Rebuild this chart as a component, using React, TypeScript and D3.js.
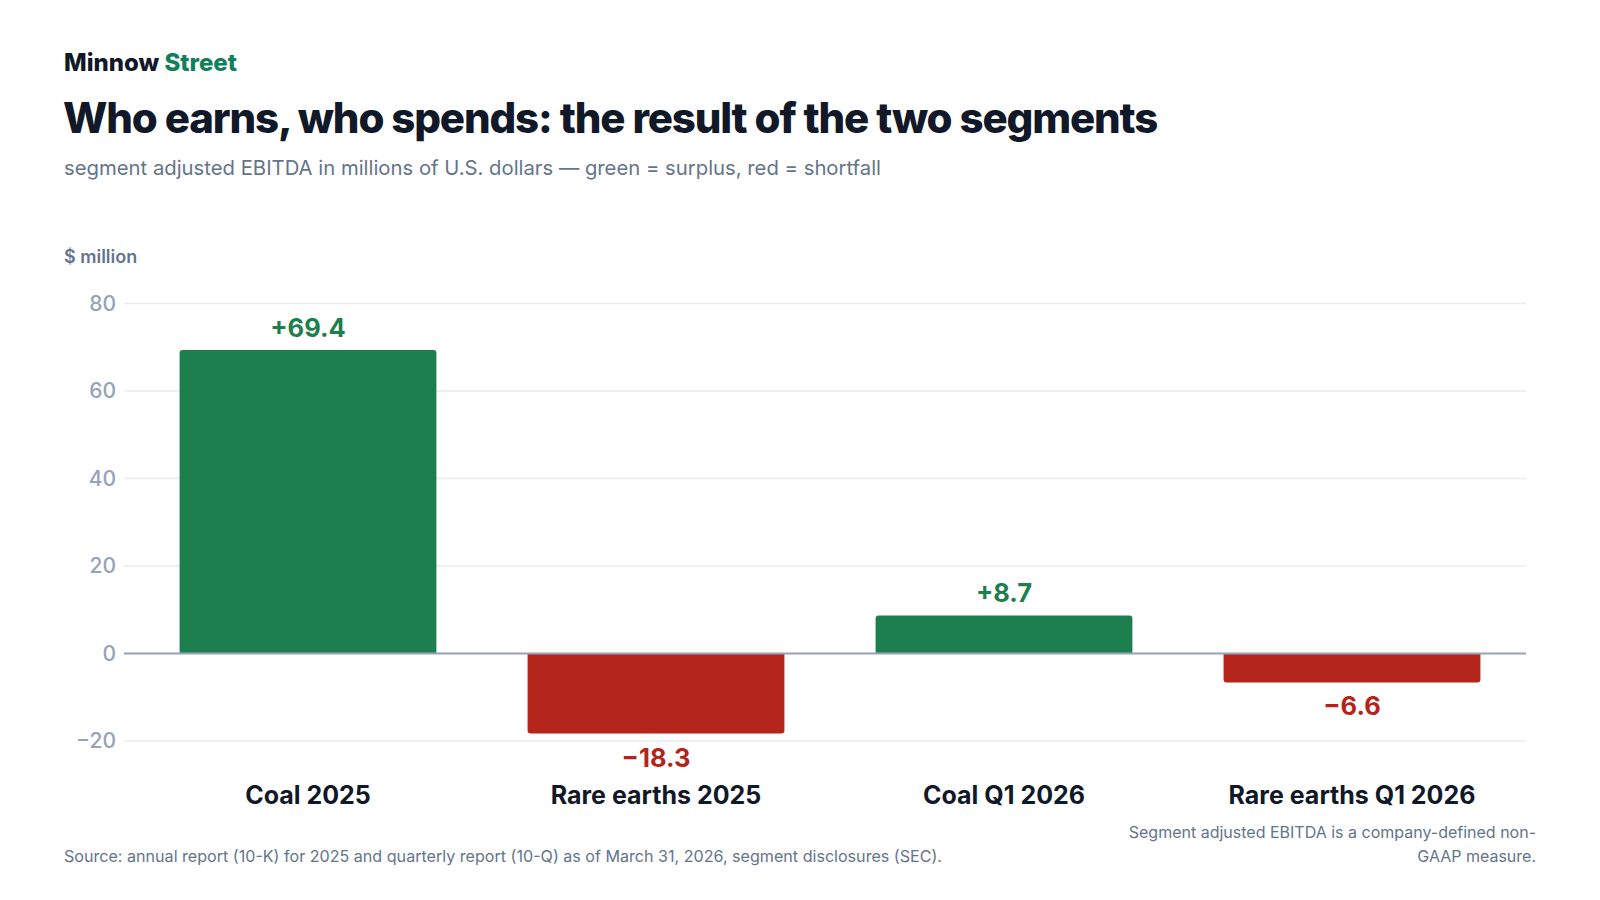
import * as d3 from "d3";

const categories = ["Coal 2025", "Rare earths 2025", "Coal Q1 2026", "Rare earths Q1 2026"];
const values = [69.4, -18.3, 8.7, -6.6];
const yTicks = [-20, 0, 20, 40, 60, 80];

const width = 1600;
const height = 900;
const font = "Inter, 'Noto Sans', sans-serif";

const green = "#1e7f4e";
const red = "#b3241b";

// bar with rounded corners only on the end away from zero
const barPath = (x: number, w: number, y0: number, y1: number, r: number) => {
  if (y1 < y0) {
    return `M${x},${y0}V${y1 + r}Q${x},${y1} ${x + r},${y1}H${x + w - r}Q${x + w},${y1} ${x + w},${y1 + r}V${y0}Z`;
  }
  return `M${x},${y0}V${y1 - r}Q${x},${y1} ${x + r},${y1}H${x + w - r}Q${x + w},${y1} ${x + w},${y1 - r}V${y0}Z`;
};

export default function App() {
  const x = d3.scaleBand<string>()
    .domain(categories)
    .range([134, 1526])
    .paddingInner(0.262)
    .paddingOuter(0.131);

  const y = d3.scaleLinear().domain([-20, 80]).range([741, 303.5]);
  const fmt = (v: number) => (v > 0 ? "+" : "\u2212") + Math.abs(v).toFixed(1);
  const tickFmt = (v: number) => (v < 0 ? "\u2212" + Math.abs(v) : String(v));

  return (
    <svg width={width} height={height} style={{ position: "absolute", left: 0, top: 0, background: "#fff" }} fontFamily={font}>
      <text x={64} y={71} fontSize={24} fontWeight={800} fill="#111827" letterSpacing={0}>
        Minnow <tspan fill="#12805a">Street</tspan>
      </text>
      <text x={63} y={133} fontSize={42} fontWeight={800} fill="#111827" letterSpacing={-1.15}>
        Who earns, who spends: the result of the two segments
      </text>
      <text x={64} y={175} fontSize={20.3} fill="#64748b">
        segment adjusted EBITDA in millions of U.S. dollars — green = surplus, red = shortfall
      </text>
      <text x={64} y={263} fontSize={18} fontWeight={600} fill="#64748b">$ million</text>

      {yTicks.map(t => (
        <g key={t}>
          {t !== 0 && <line x1={124} x2={1526} y1={y(t)} y2={y(t)} stroke="#e8ebf0" strokeWidth={1.5} />}
          <text x={116} y={y(t)} dy="0.35em" textAnchor="end" fontSize={21} fontWeight={500} fill="#94a3b8">{tickFmt(t)}</text>
        </g>
      ))}

      {categories.map((c, i) => {
        const v = values[i];
        const bx = x(c)!;
        const bw = x.bandwidth();
        const col = v >= 0 ? green : red;
        return (
          <g key={c}>
            <path d={barPath(bx, bw, y(0), y(v), 3)} fill={col} />
            <text
              x={bx + bw / 2}
              y={v >= 0 ? y(v) - 13 : y(v) + 33}
              textAnchor="middle"
              fontSize={25.5}
              fontWeight={700}
              fill={col}
            >
              {fmt(v)}
            </text>
            <text x={bx + bw / 2} y={804} textAnchor="middle" fontSize={25} fontWeight={700} fill="#111827">
              {c}
            </text>
          </g>
        );
      })}

      <line x1={124} x2={1526} y1={y(0)} y2={y(0)} stroke="#98a2b8" strokeWidth={2} />

      <text x={64} y={862} fontSize={16.1} fill="#64748b">
        Source: annual report (10-K) for 2025 and quarterly report (10-Q) as of March 31, 2026, segment disclosures (SEC).
      </text>
      <text x={1536} y={838} fontSize={16} fill="#64748b" textAnchor="end">
        Segment adjusted EBITDA is a company-defined non-
      </text>
      <text x={1536} y={862} fontSize={16} fill="#64748b" textAnchor="end">
        GAAP measure.
      </text>
    </svg>
  );
}
